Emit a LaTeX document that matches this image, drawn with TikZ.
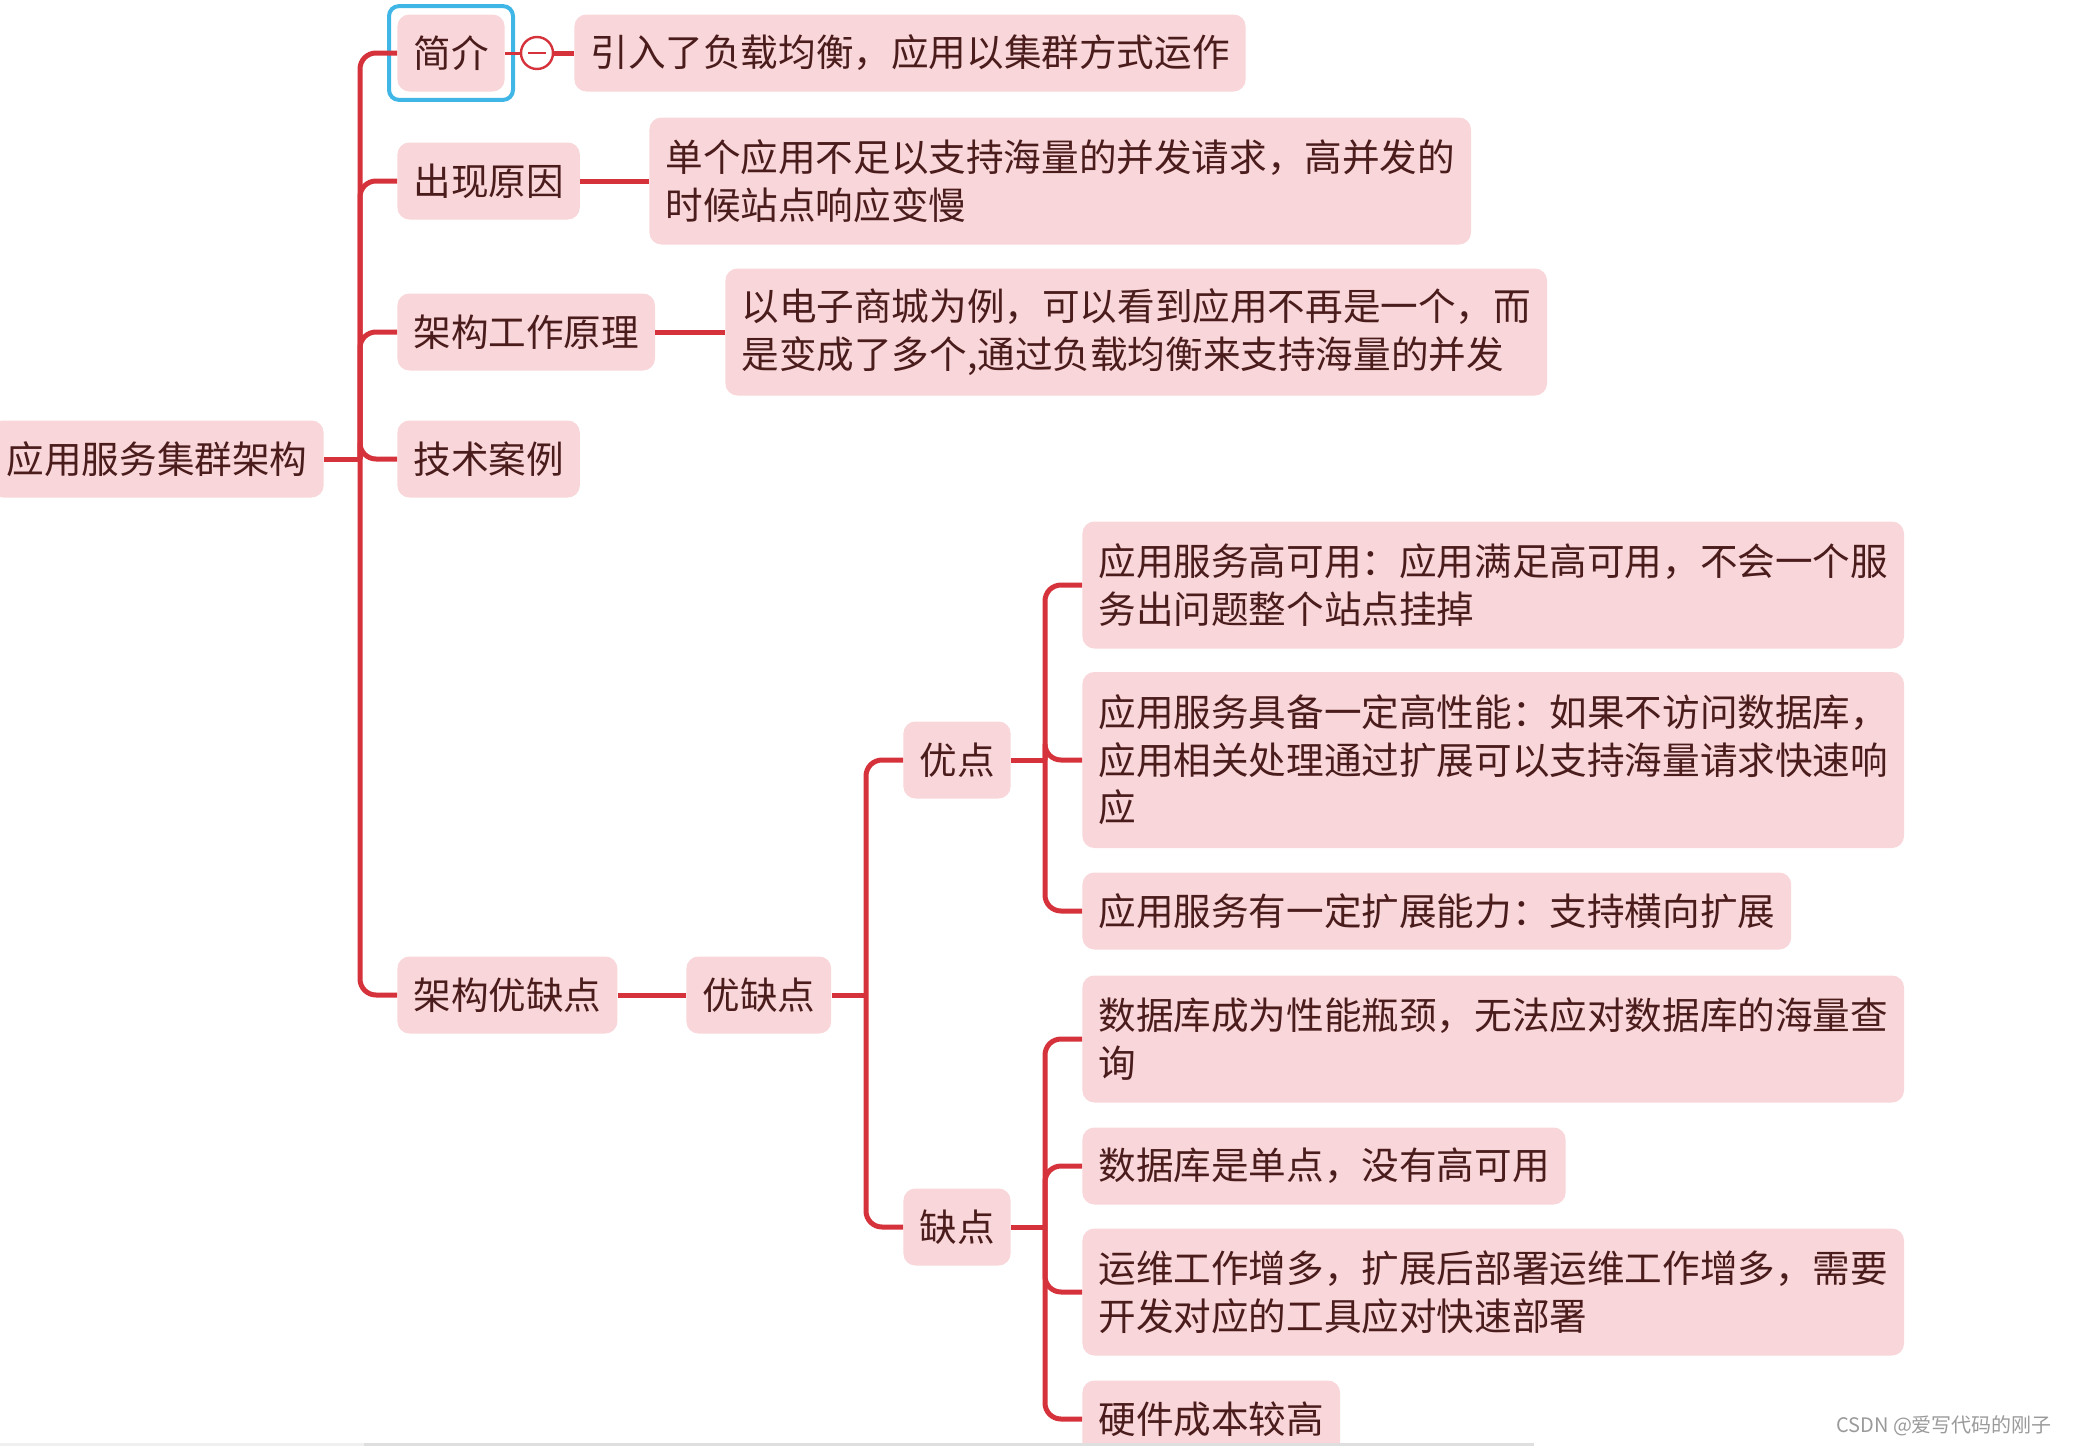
\documentclass[tikz,border=0pt]{standalone}
\usepackage{fontspec}
\setmainfont{Noto Sans CJK SC}
\usepackage{tikz}
\usetikzlibrary{positioning}
\definecolor{mm-line}{HTML}{D5323C}
\definecolor{mm-fill}{HTML}{F9D6D9}
\definecolor{mm-text}{HTML}{4A1C1C}
\definecolor{mm-select}{HTML}{3FB6E6}
\definecolor{mm-mark}{HTML}{9A9A9A}

\begin{document}
\begin{tikzpicture}[x=0.5pt, y=-0.5pt,
    topic/.style={fill=mm-fill, text=mm-text, rounded corners=6pt, inner xsep=8pt, inner ysep=4pt,
        align=left, anchor=west, font=\fontsize{18.8}{23.8}\selectfont},
    one/.style={minimum height=38.5pt},
    two/.style={minimum height=63.5pt},
    three/.style={minimum height=88pt},
    link/.style={mm-line, line width=2.5pt, rounded corners=8pt}]
        \useasboundingbox (0,0) rectangle (2074,1446);
        % first level
        \node[topic, one, anchor=east] (root) at (324,459) {应用服务集群架构};
        \node[topic, one] (intro) at (397,53) {简介};
        \node[topic, one] (cause) at (397,181) {出现原因};
        \node[topic, one] (principle) at (397,332) {架构工作原理};
        \node[topic, one] (cases) at (397,459) {技术案例};
        \node[topic, one] (proscons) at (397,995) {架构优缺点};
        % second level
        \node[circle, draw=mm-line, fill=white, line width=1.2pt, minimum size=16pt, inner sep=0pt] (fold) at (537,53) {};
        \draw[mm-line, line width=1.2pt] ([xshift=-4.5pt]fold.center) -- ([xshift=4.5pt]fold.center);
        \node[topic, one] (introtext) at (574,53) {引入了负载均衡，应用以集群方式运作};
        \node[topic, two] (causetext) at (649,181) {单个应用不足以支持海量的并发请求，高并发的\\时候站点响应变慢};
        \node[topic, two] (principletext) at (725,332) {以电子商城为例，可以看到应用不再是一个，而\\是变成了多个,通过负载均衡来支持海量的并发};
        \node[topic, one] (pc) at (686,995) {优缺点};
        \node[topic, one] (pros) at (903,760) {优点};
        \node[topic, one] (cons) at (903,1227) {缺点};
        % pros
        \node[topic, two] (pro1) at (1082,585) {应用服务高可用：应用满足高可用，不会一个服\\务出问题整个站点挂掉};
        \node[topic, three] (pro2) at (1082,760) {应用服务具备一定高性能：如果不访问数据库，\\应用相关处理通过扩展可以支持海量请求快速响\\应};
        \node[topic, one] (pro3) at (1082,911) {应用服务有一定扩展能力：支持横向扩展};
        % cons
        \node[topic, two] (con1) at (1082,1039) {数据库成为性能瓶颈，无法应对数据库的海量查\\询};
        \node[topic, one] (con2) at (1082,1166) {数据库是单点，没有高可用};
        \node[topic, two] (con3) at (1082,1292) {运维工作增多，扩展后部署运维工作增多，需要\\开发对应的工具应对快速部署};
        \node[topic, one] (con4) at (1082,1419) {硬件成本较高};
        % selection frame
        \draw[mm-select, line width=2pt, rounded corners=5pt] ([shift={(-4pt,4pt)}]intro.north west) rectangle ([shift={(4pt,-4pt)}]intro.south east);
        % connectors
        \coordinate (j1) at (360,459);
        \coordinate (j2) at (866,995);
        \coordinate (j3) at (1045,760);
        \coordinate (j4) at (1045,1227);
        \draw[link] (root.east) -- (j1);
        \foreach \n in {intro,cause,principle,cases,proscons}
            \draw[link] (j1) |- (\n.west);
        \draw[mm-line, line width=1.5pt] (intro.east) -- (fold.west);
        \draw[link] (fold.east) -- (introtext.west);
        \draw[link] (cause.east) -- (causetext.west);
        \draw[link] (principle.east) -- (principletext.west);
        \draw[link] (proscons.east) -- (pc.west);
        \draw[link] (pc.east) -- (j2);
        \foreach \n in {pros,cons}
            \draw[link] (j2) |- (\n.west);
        \draw[link] (pros.east) -- (j3);
        \foreach \n in {pro1,pro2,pro3}
            \draw[link] (j3) |- (\n.west);
        \draw[link] (cons.east) -- (j4);
        \foreach \n in {con1,con2,con3,con4}
            \draw[link] (j4) |- (\n.west);
        % watermark and bottom edge
        \node[text=mm-mark, anchor=east, font=\fontsize{10}{12}\selectfont] (mark) at (2059,1426) {CSDN @爱写代码的刚子};
        \fill[gray!12] (0,1443) rectangle (364,1446);
        \fill[gray!25] (364,1443) rectangle (1534,1446);
\end{tikzpicture}
\end{document}
